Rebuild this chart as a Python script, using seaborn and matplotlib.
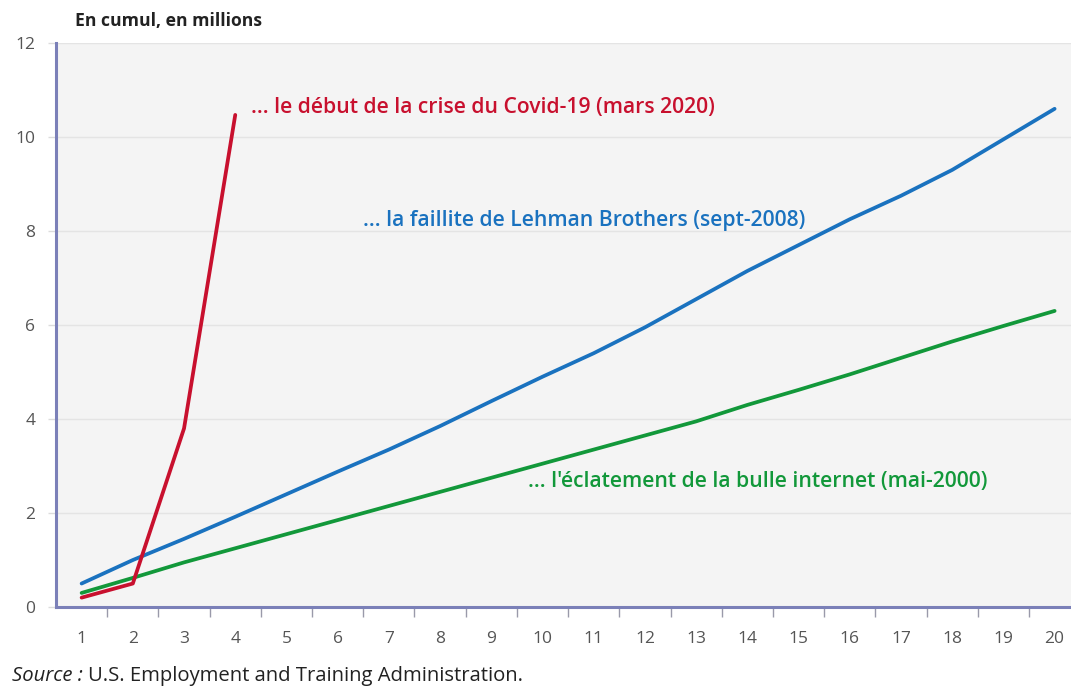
import pandas as pd
import seaborn as sns
import matplotlib.pyplot as plt

# Semaines après le choc (1 à 20)
semaines = list(range(1, 21))
# Inscriptions cumulées au chômage, en millions
covid = [0.2, 0.5, 3.8, 10.47]
lehman = [0.5, 1.0, 1.45, 1.92, 2.4, 2.88, 3.35, 3.85, 4.38, 4.9,
          5.4, 5.95, 6.55, 7.15, 7.7, 8.25, 8.75, 9.3, 9.95, 10.6]
internet = [0.3, 0.62, 0.95, 1.25, 1.55, 1.85, 2.15, 2.45, 2.75, 3.05,
            3.35, 3.65, 3.95, 4.3, 4.62, 4.95, 5.3, 5.65, 5.98, 6.3]

series_labels = ["... le début de la crise du Covid-19 (mars 2020)",
                 "... la faillite de Lehman Brothers (sept-2008)",
                 "... l'éclatement de la bulle internet (mai-2000)"]

rouge = "#c8102e"
bleu = "#1a72bf"
vert = "#12983a"

df = pd.concat([
    pd.DataFrame({"semaine": semaines[:len(covid)], "valeur": covid, "serie": "covid"}),
    pd.DataFrame({"semaine": semaines, "valeur": lehman, "serie": "lehman"}),
    pd.DataFrame({"semaine": semaines, "valeur": internet, "serie": "internet"}),
], ignore_index=True)

sns.set_theme(style="white")
plt.rcParams['font.family'] = ['Open Sans', 'DejaVu Sans']

fig = plt.figure(figsize=(10.71, 6.87), dpi=100)
fig.patch.set_facecolor("white")
ax = fig.add_axes([0.0523, 0.1164, 0.9477, 0.821])
ax.set_facecolor("#f4f4f4")

sns.lineplot(data=df, x="semaine", y="valeur", hue="serie",
             palette={"covid": rouge, "lehman": bleu, "internet": vert},
             hue_order=["internet", "lehman", "covid"],
             linewidth=2.7, legend=False, ax=ax)

ax.set_xlim(0.5, 20.32)
ax.set_ylim(0, 12)
ax.set_yticks(range(0, 13, 2))
ax.set_xticks(semaines)
ax.set_xticks([s + 0.5 for s in semaines[:-1]], minor=True)
ax.set_xlabel("")
ax.set_ylabel("")

ax.grid(axis="y", color="#e4e4e4", linewidth=1)
ax.set_axisbelow(True)

for side in ["top", "right"]:
    ax.spines[side].set_visible(False)
for side in ["left", "bottom"]:
    ax.spines[side].set_color("#7b80b8")
    ax.spines[side].set_linewidth(2.2)

ax.tick_params(axis="x", which="major", length=0, pad=17, labelsize=12.5, labelcolor="#555555")
ax.tick_params(axis="x", which="minor", length=7, width=1, color="#9a9aaa", bottom=True)
ax.tick_params(axis="y", which="major", length=6, width=1, color="#dcdcdc", pad=9,
               labelsize=12.5, labelcolor="#555555", left=True)

# Annotations des séries
ax.text(4.3, 10.62, series_labels[0], color=rouge, fontsize=15.2, fontweight="semibold", va="center")
ax.text(6.49, 8.22, series_labels[1], color=bleu, fontsize=15.2, fontweight="semibold", va="center")
ax.text(9.72, 2.67, series_labels[2], color=vert, fontsize=15.2, fontweight="semibold", va="center")

fig.text(0.07, 0.97, "En cumul, en millions", fontsize=12.6, fontweight="bold",
         color="#222222", va="center")

# Source : partie en italique suivie du texte normal
src = fig.text(0.011, 0.009, "Source : ", fontsize=14.6, style="italic", color="#222222",
               va="baseline")
fig.canvas.draw()
bb = src.get_window_extent().transformed(fig.transFigure.inverted())
fig.text(bb.x1, 0.009, "U.S. Employment and Training Administration.", fontsize=14.6,
         color="#222222", va="baseline")

fig.savefig("out.png", dpi=100)
